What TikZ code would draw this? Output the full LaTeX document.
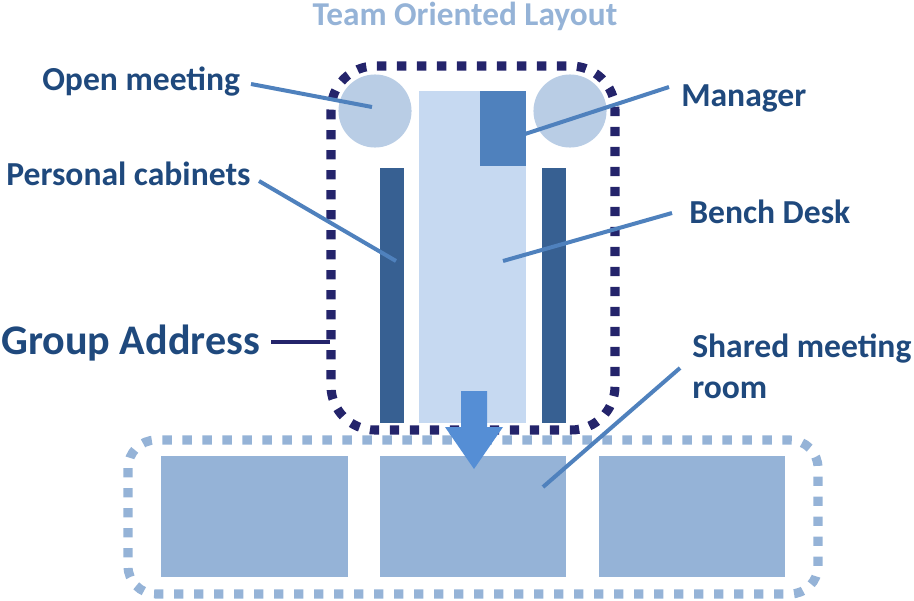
\documentclass[tikz,border=0pt]{standalone}
\usepackage{fontspec}
\setmainfont{Carlito}
\definecolor{txtblue}{HTML}{1F497D}
\definecolor{titleblue}{HTML}{95B3D7}
\definecolor{navy}{HTML}{24246B}
\definecolor{roomblue}{HTML}{95B3D7}
\definecolor{benchblue}{HTML}{C6D9F1}
\definecolor{mgrblue}{HTML}{4F81BD}
\definecolor{cabblue}{HTML}{376092}
\definecolor{circblue}{HTML}{B9CDE5}
\definecolor{arrowblue}{HTML}{558ED5}
\definecolor{leaderblue}{HTML}{4F81BD}
\tikzset{
  lbl/.style={inner sep=0pt, text=txtblue, font=\fontsize{25.2}{30.75}\selectfont\bfseries, anchor=base west},
  leader/.style={draw=leaderblue, line width=3pt},
  dotborder/.style={line width=6.8pt, dash pattern=on 7pt off 8pt},
}
\begin{document}
\begin{tikzpicture}[x=0.75pt,y=-0.75pt]
\useasboundingbox (0,0) rectangle (914,600);
% light dotted group (shared rooms)
\draw[dotborder, draw=roomblue, rounded corners=21pt] (128,440) rectangle (818,594);
\fill[roomblue] (161,456) rectangle (348,577);
\fill[roomblue] (380,456) rectangle (566,577);
\fill[roomblue] (599,456) rectangle (785,577);
% dark dotted group address
\draw[dotborder, draw=navy, rounded corners=33pt] (331,66) rectangle (615,430);
% bench desk, manager, cabinets
\fill[benchblue] (419,91) rectangle (526,423);
\fill[mgrblue] (480,91) rectangle (526,166);
\fill[cabblue] (380,168) rectangle (404,423);
\fill[cabblue] (542,168) rectangle (566,423);
% open meeting circles
\fill[circblue] (375,111) circle[radius=27.4pt];
\fill[circblue] (570,111) circle[radius=27.4pt];
% arrow
\fill[arrowblue] (461,391) -- (487,391) -- (487,427) -- (503,427) -- (474,469) -- (445,427) -- (461,427) -- cycle;
% title
\node[inner sep=0pt, anchor=base, text=titleblue, font=\fontsize{25}{30}\selectfont\bfseries] (title) at (465,25) {Team Oriented Layout};
% labels
\node[lbl] (om) at (42,90) {Open meeting};
\node[lbl] (pc) at (6,185) {Personal cabinets};
\node[lbl] (mg) at (681,106) {Manager};
\node[lbl] (bd) at (689,223) {Bench Desk};
\node[lbl, font=\fontsize{31.6}{37}\selectfont\bfseries] (ga) at (1,354) {Group Address};
\node[lbl, align=left] (sm) at (692,398) {Shared meeting\\room};
% leader coordinates
\coordinate (omS) at (251,84);  \coordinate (omE) at (372,107);
\coordinate (pcS) at (259,181); \coordinate (pcE) at (396,261);
\coordinate (mgS) at (669,87);  \coordinate (mgE) at (525,134);
\coordinate (bdS) at (672,213); \coordinate (bdE) at (503,261);
\coordinate (gaS) at (271,342); \coordinate (gaE) at (330,342);
\coordinate (smS) at (680,368); \coordinate (smE) at (543,487);
\draw[leader] (omS) -- (omE);
\draw[leader] (pcS) -- (pcE);
\draw[leader] (mgS) -- (mgE);
\draw[leader] (bdS) -- (bdE);
\draw[leader] (smS) -- (smE);
\draw[line width=3pt, draw=navy] (gaS) -- (gaE);
\end{tikzpicture}
\end{document}
